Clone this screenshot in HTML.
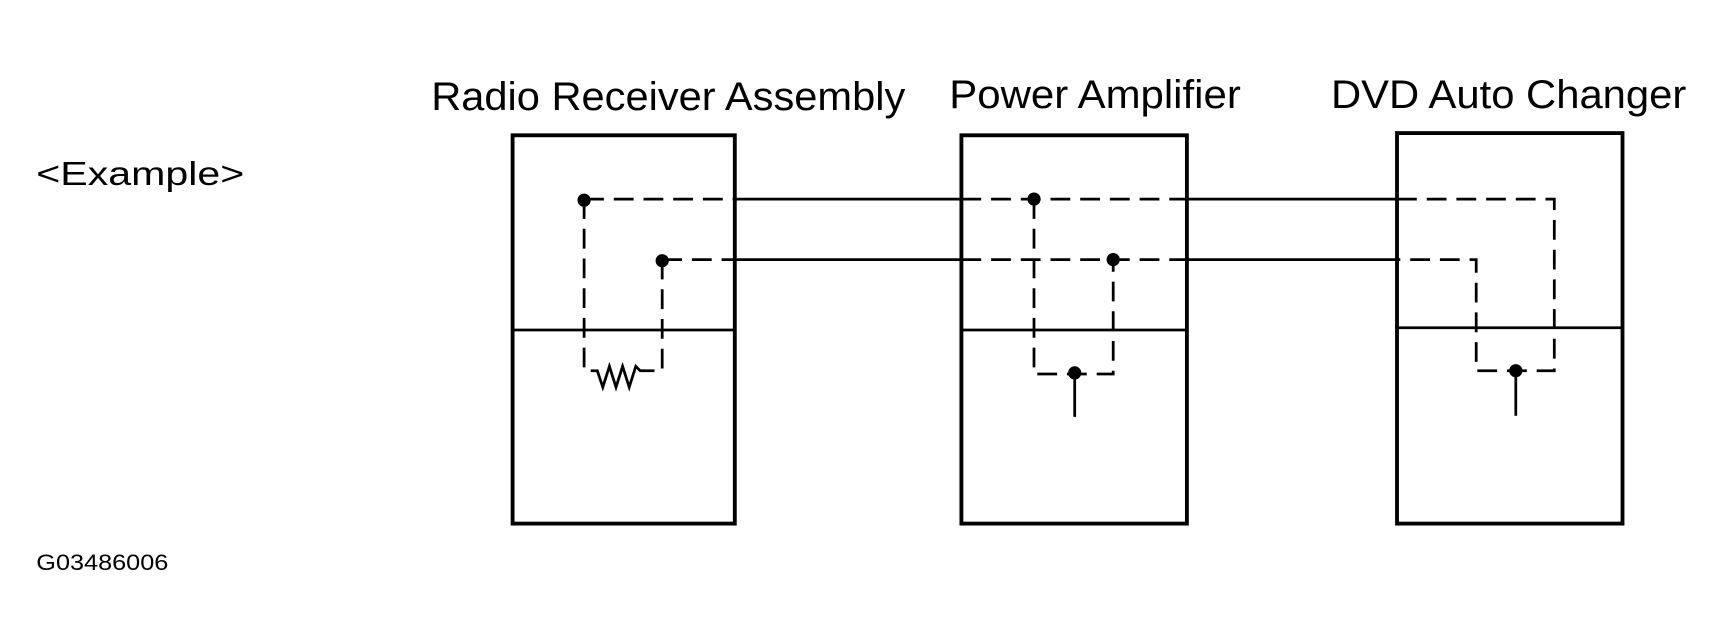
<!DOCTYPE html>
<html><head><meta charset="utf-8"><style>
html,body{margin:0;padding:0;background:#fff;}
svg{display:block;}
text{font-family:"Liberation Sans",Arial,sans-serif;fill:#000;}
</style></head><body>
<svg width="1716" height="642" viewBox="0 0 1560 583.64" preserveAspectRatio="none" xmlns="http://www.w3.org/2000/svg">
<rect x="0" y="0" width="1560" height="584" fill="#fff"/>
<text x="392" y="100" font-size="36" textLength="431" lengthAdjust="spacingAndGlyphs">Radio Receiver Assembly</text>
<text x="863" y="98" font-size="36" textLength="265" lengthAdjust="spacingAndGlyphs">Power Amplifier</text>
<text x="1210" y="98" font-size="36" textLength="323" lengthAdjust="spacingAndGlyphs">DVD Auto Changer</text>
<text x="33" y="168" font-size="30" textLength="189" lengthAdjust="spacingAndGlyphs">&lt;Example&gt;</text>
<text x="33" y="518" font-size="20" textLength="120" lengthAdjust="spacingAndGlyphs">G03486006</text>

<g stroke="#000" fill="none">
<rect x="466" y="123" width="202" height="353" stroke-width="3.5"/>
<line x1="466" y1="300" x2="668" y2="300" stroke-width="2.5"/>
<rect x="874" y="123" width="205" height="353" stroke-width="3.5"/>
<line x1="874" y1="300" x2="1079" y2="300" stroke-width="2.5"/>
<rect x="1270" y="121" width="205" height="355" stroke-width="3.5"/>
<line x1="1270" y1="298" x2="1475" y2="298" stroke-width="2.5"/>

<line x1="668" y1="181" x2="874" y2="181" stroke-width="2.5"/>
<line x1="668" y1="236" x2="874" y2="236" stroke-width="2.5"/>
<line x1="1079" y1="181" x2="1270" y2="181" stroke-width="2.5"/>
<line x1="1079" y1="236" x2="1270" y2="236" stroke-width="2.5"/>

<g stroke-width="2.5" stroke-dasharray="18,9">
<path d="M531 181 H668"/>
<path d="M602 236 H668"/>
<path d="M531 181 V337 H540"/>
<path d="M602 236 V337 H595"/>
<path d="M874 181 H1079"/>
<path d="M874 236 H1079"/>
<path d="M940 181 V340 H1012 V236"/>
<path d="M1270 181 H1413 V337 H1342 V236 H1270"/>
</g>
<polyline points="540,337 543,337 548,352 554,333 560,352 566,333 572,352 578,333 582,337 595,337" stroke-width="2.5"/>
<line x1="977" y1="340" x2="977" y2="379" stroke-width="2.5"/>
<line x1="1378" y1="337" x2="1378" y2="378" stroke-width="2.5"/>
</g>
<g fill="#000">
<circle cx="531" cy="182" r="6"/>
<circle cx="602" cy="237" r="6"/>
<circle cx="940" cy="181" r="6"/>
<circle cx="1012" cy="236" r="6"/>
<circle cx="977" cy="339" r="6"/>
<circle cx="1378" cy="337" r="6"/>
</g>
</svg>
</body></html>
